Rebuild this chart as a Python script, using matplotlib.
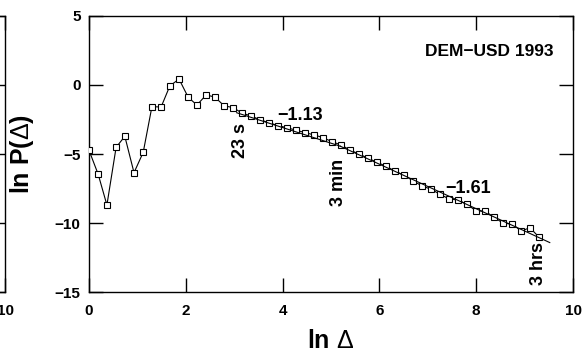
import numpy as np
import matplotlib
matplotlib.use("Agg")
import matplotlib.pyplot as plt

plt.rcParams['font.family'] = ['Liberation Sans', 'DejaVu Sans']
plt.rcParams['font.weight'] = 'bold'
plt.rcParams['mathtext.fontset'] = 'custom'
plt.rcParams['mathtext.rm'] = 'Liberation Sans:normal'

# ln(Delta) values (ln of seconds)
ln_delta = [0.00, 0.19, 0.37, 0.56, 0.74, 0.93, 1.12, 1.30, 1.49, 1.67,
            1.86, 2.05, 2.23, 2.42, 2.60, 2.79, 2.98, 3.16, 3.35, 3.53,
            3.72, 3.91, 4.09, 4.28, 4.46, 4.65, 4.84, 5.02, 5.21, 5.39,
            5.58, 5.77, 5.95, 6.14, 6.32, 6.51, 6.70, 6.88, 7.07, 7.25,
            7.44, 7.63, 7.81, 8.00, 8.18, 8.37, 8.56, 8.74, 8.93, 9.11,
            9.30]
ln_p = [-4.73, -6.47, -8.69, -4.52, -3.72, -6.35, -4.88, -1.58, -1.60, -0.08,
        0.42, -0.90, -1.46, -0.73, -0.88, -1.51, -1.65, -2.04, -2.25, -2.52,
        -2.74, -2.95, -3.10, -3.28, -3.45, -3.62, -3.82, -4.11, -4.35, -4.71,
        -5.00, -5.31, -5.60, -5.89, -6.23, -6.54, -6.95, -7.31, -7.55, -7.91,
        -8.25, -8.33, -8.64, -9.12, -9.12, -9.58, -10.01, -10.06, -10.57, -10.33,
        -11.02]

# power-law fits: slopes, ranges, anchor
slope1 = -1.13
slope2 = -1.61
fit1_range = (3.05, 5.19)
fit2_range = (5.19, 9.52)
anchor_x, anchor_y = 9.30, -11.05

W, H = 582, 351
fig = plt.figure(figsize=(W / 100, H / 100), dpi=100)

# remnant of neighbouring panel on the left
ax0 = fig.add_axes([(5 - 480) / W, (351 - 292.3) / H, 480 / W, (292.3 - 15.7) / H])
ax0.set_xlim(0, 10)
ax0.set_ylim(-15, 5)
ax0.set_xticks([0, 2, 4, 6, 8, 10])
ax0.set_yticks([-15, -10, -5, 0, 5])
ax0.set_yticklabels([])
ax0.tick_params(direction='in', length=10, width=1, top=True, right=True,
                labelsize=11, pad=8.5)
for s in ax0.spines.values():
    s.set_linewidth(1.0)

ax = fig.add_axes([89 / W, (351 - 292.3) / H, (573 - 89) / W, (292.3 - 15.7) / H])
ax.plot(ln_delta, ln_p, color='black', lw=0.8, marker='s', ms=4.3,
        mfc='white', mec='black', mew=0.8, zorder=3)

# fitted lines
anchor2 = anchor_y + slope2 * (fit2_range[0] - anchor_x)
x2 = np.array(fit2_range)
ax.plot(x2, anchor2 + slope2 * (x2 - fit2_range[0]), color='black', lw=0.8, zorder=4)
x1 = np.array(fit1_range)
ax.plot(x1, anchor2 + slope1 * (x1 - fit1_range[1]), color='black', lw=0.8, zorder=4)

ax.set_xlim(0, 10)
ax.set_ylim(-15, 5)
ax.set_xticks([0, 2, 4, 6, 8, 10])
ax.set_yticks([-15, -10, -5, 0, 5])
ax.tick_params(direction='in', length=10, width=1, top=True, right=True,
               labelsize=11, pad=8.5)
ax.tick_params(axis='y', pad=6)
for s in ax.spines.values():
    s.set_linewidth(1.0)

ax.set_xlabel(r'ln $\mathrm{\Delta}$', fontsize=18, fontweight='bold', labelpad=8)
fig.text(22 / W, 1 - 154 / H, r'ln P($\mathrm{\Delta}$)', fontsize=18, fontweight='bold',
         rotation=90, ha='center', va='center')

ax.text(4.36, -2.25, '−1.13', fontsize=13, fontweight='bold', ha='center', va='center')
ax.text(7.84, -7.46, '−1.61', fontsize=13, fontweight='bold', ha='center', va='center')
ax.text(3.12, -4.06, '23 s', fontsize=13, fontweight='bold', rotation=90, ha='center', va='center')
ax.text(5.15, -7.03, '3 min', fontsize=13, fontweight='bold', rotation=90, ha='center', va='center')
ax.text(9.29, -12.9, '3 hrs', fontsize=13, fontweight='bold', rotation=90, ha='center', va='center')
ax.text(0.9587, 0.869, 'DEM−USD 1993', transform=ax.transAxes, fontsize=12.5,
        fontweight='bold', ha='right', va='center')

fig.savefig('out.png', dpi=100)
